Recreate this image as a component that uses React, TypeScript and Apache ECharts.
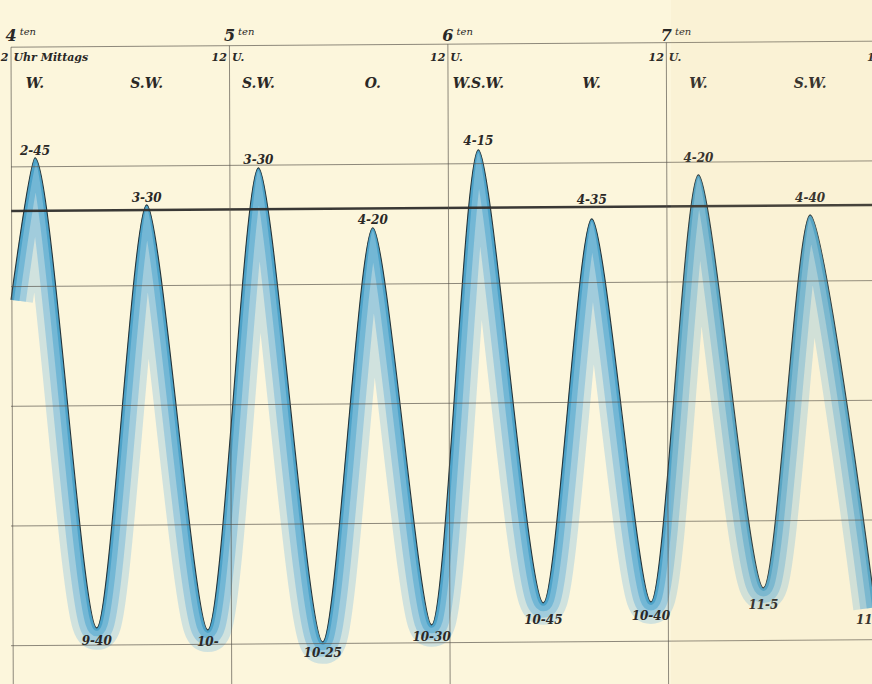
import React, { useEffect, useRef } from "react";
import * as echarts from "echarts";

// ---------- DATA (x = hours after noon of the 4th, y = water level in grid units) ----------
const startHour = 0;
const startLevel = 2.89;

const highWaterHours = [2.64, 14.91, 27.18, 39.75, 51.35, 63.81, 75.53, 87.8];
const highWaterLevels = [4.075, 3.683, 3.992, 3.491, 4.142, 3.566, 3.933, 3.599];
const highWaterTimes = ["2-45", "3-30", "3-30", "4-20", "4-15", "4-35", "4-20", "4-40"];
const windDirections = ["W.", "S.W.", "S.W.", "O.", "W.S.W.", "W.", "W.", "S.W."];

const lowWaterHours = [9.42, 21.62, 34.25, 46.21, 58.49, 70.3, 82.67, 94.95];
const lowWaterLevels = [0.149, 0.132, 0.032, 0.174, 0.358, 0.366, 0.483, 0.32];
const lowWaterTimes = ["9-40", "10-", "10-25", "10-30", "10-45", "10-40", "11-5", "11-20"];

const dayStartHours = [0, 24, 48, 72, 96];
const dayNumbers = ["4", "5", "6", "7", "8"];
const dayNoonText = ["Uhr Mittags", "U.", "U.", "U.", "U."];

const gridLevels = [0, 1, 2, 3, 4, 5];
const meanLevel = 3.632;

// ---------- LAYOUT / STYLE ----------
const X_MAX = 94.6;
const Y_MIN = -0.32;
const Y_MAX = 5.15;
const GRID_LEFT = 11;
const SKEW = 0.05; // scan tilt of the sheet (level units across the width)
const SKEW_X = 0.25; // tilt of vertical lines (hours over full height)
const SMOOTH = 0.25;
const PAPER = "#fcf6dc";
const INK = "#2a2826";
const peakLabelGap = [0, 0, 1, 1, 2, 12, 10, 10];
const troughLabelGap = [7, 6, 5, 6, 11, 8, 11, 6];
const headerRow = { day: 5.094, noon: 4.91, wind: 4.7 };
const SERIF = "'DejaVu Serif', 'Liberation Serif', serif";

const bandLayers = [
  { width: 44, color: "rgba(70,165,228,0.24)" },
  { width: 30, color: "rgba(62,160,218,0.32)" },
  { width: 17, color: "rgba(58,156,206,0.44)" },
  { width: 6, color: "rgba(48,146,192,0.58)" },
];

function buildCurve(): number[][] {
  const pts: number[][] = [[startHour, startLevel]];
  for (let i = 0; i < highWaterHours.length; i++) {
    pts.push([highWaterHours[i], highWaterLevels[i]]);
    pts.push([lowWaterHours[i], lowWaterLevels[i]]);
  }
  return pts;
}

function textStyle(size: number, weight: string = "bold") {
  return {
    fontFamily: SERIF,
    fontStyle: "italic",
    fontWeight: weight,
    fontSize: size,
    color: INK,
    opacity: 1,
  };
}

function inView(h: number) {
  return h <= X_MAX;
}

function buildLabels() {
  const items: any[] = [];
  highWaterHours.forEach((h, i) => {
    items.push({
      value: [h, highWaterLevels[i]],
      label: {
        show: true,
        formatter: highWaterTimes[i],
        position: "top",
        distance: peakLabelGap[i],
        lineHeight: 12,
        ...textStyle(12),
      },
    });
    items.push({
      value: [h, headerRow.wind],
      label: {
        show: true,
        formatter: windDirections[i],
        position: "inside",
        align: "center",
        verticalAlign: "middle",
        ...textStyle(14),
      },
    });
  });
  lowWaterHours.forEach((h, i) => {
    items.push({
      value: [h, lowWaterLevels[i]],
      label: {
        show: true,
        formatter: lowWaterTimes[i],
        position: "bottom",
        distance: troughLabelGap[i],
        lineHeight: 12,
        ...textStyle(12),
      },
    });
  });
  dayStartHours.forEach((h, i) => {
    items.push({
      value: [h, headerRow.noon],
      label: {
        show: true,
        formatter: "12",
        position: [-2, 0],
        align: "right",
        verticalAlign: "middle",
        ...textStyle(11),
      },
    });
    if (!inView(h)) return;
    items.push({
      value: [h, headerRow.day],
      label: {
        show: true,
        formatter: `{d|${dayNumbers[i]}}{s|ten}`,
        position: [-5, 0],
        align: "left",
        verticalAlign: "middle",
        rich: {
          d: { ...textStyle(16, "bold"), lineHeight: 18 },
          s: {
            ...textStyle(10, "normal"),
            lineHeight: 10,
            verticalAlign: "top",
            padding: [0, 0, 0, 3],
          },
        },
      },
    });
    items.push({
      value: [h, headerRow.noon],
      label: {
        show: true,
        formatter: dayNoonText[i],
        position: [3, 0],
        align: "left",
        verticalAlign: "middle",
        ...textStyle(11),
      },
    });
  });
  return items;
}

function buildGridLines() {
  const lines: any[] = [];
  gridLevels.forEach((v) => {
    lines.push([{ coord: [0, v] }, { coord: [X_MAX, v + SKEW] }]);
  });
  lines.push([
    { coord: [0, meanLevel], lineStyle: { width: 2.6, color: "#2e2d2b", opacity: 0.95 } },
    { coord: [X_MAX, meanLevel + SKEW] },
  ]);
  dayStartHours.filter(inView).forEach((h) => {
    lines.push([
      { coord: [h, gridLevels[gridLevels.length - 1] + (SKEW * h) / X_MAX] },
      { coord: [h + SKEW_X, Y_MIN] },
    ]);
  });
  return lines;
}

function buildOption() {
  const curve = buildCurve();
  const bandSeries = bandLayers.map((b) => ({
    type: "line",
    data: curve,
    smooth: SMOOTH,
    symbol: "none",
    silent: true,
    z: 1,
    lineStyle: { width: b.width, color: b.color, cap: "butt", join: "round" },
  }));
  return {
    animation: false,
    backgroundColor: PAPER,
    grid: { left: GRID_LEFT, right: 0, top: 684 - (Y_MAX - Y_MIN) * 119.7, bottom: 0 },
    xAxis: { type: "value", min: 0, max: X_MAX, show: false },
    yAxis: { type: "value", min: Y_MIN, max: Y_MAX, show: false },
    series: [
      ...bandSeries,
      {
        type: "line",
        data: curve,
        smooth: SMOOTH,
        symbol: "none",
        silent: true,
        z: 2,
        lineStyle: { width: 0, opacity: 0 },
        areaStyle: { color: PAPER, opacity: 1, origin: "end" },
      },
      {
        type: "line",
        data: curve,
        smooth: SMOOTH,
        symbol: "none",
        silent: true,
        z: 4,
        lineStyle: { width: 1.1, color: "#25343a" },
        markLine: {
          silent: true,
          symbol: ["none", "none"],
          label: { show: false },
          lineStyle: { type: "solid", width: 0.9, color: "#57524a", opacity: 0.75 },
          data: buildGridLines(),
        },
      },
      {
        type: "scatter",
        z: 5,
        clip: false,
        silent: true,
        symbol: "circle",
        symbolSize: 1,
        itemStyle: { color: "rgba(0,0,0,0)" },
        data: buildLabels(),
      },
    ],
    graphic: [
      {
        type: "rect",
        silent: true,
        z: 3,
        shape: { x: 0, y: 0, width: GRID_LEFT, height: 684 },
        style: { fill: PAPER },
      },
      {
        type: "rect",
        silent: true,
        z: 100,
        shape: { x: 671, y: 0, width: 201, height: 684 },
        style: { fill: "rgba(225,200,140,0.08)" },
      },
    ],
  };
}

export default function App() {
  const ref = useRef<HTMLDivElement>(null);
  useEffect(() => {
    const el = ref.current;
    if (!el) return;
    const chart = echarts.init(el, undefined, { renderer: "svg" });
    chart.setOption(buildOption() as any);
    return () => chart.dispose();
  }, []);
  return (
    <div
      ref={ref}
      style={{ position: "fixed", left: 0, top: 0, width: 872, height: 684, background: PAPER }}
    />
  );
}
